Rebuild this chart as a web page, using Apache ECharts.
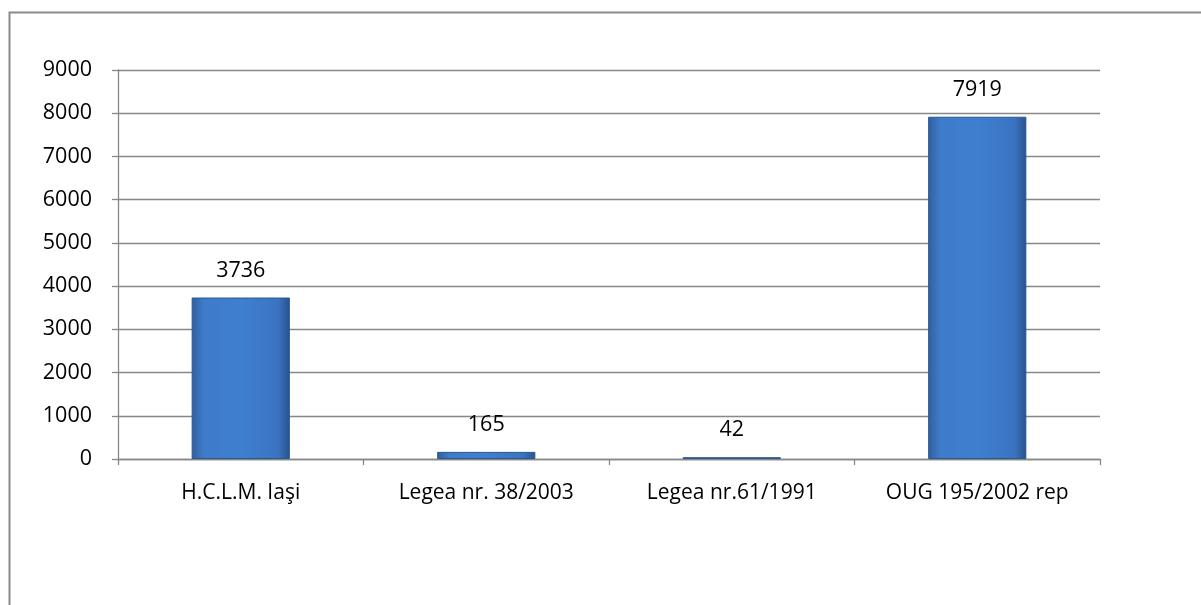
<!DOCTYPE html>
<html>
<head>
<meta charset="utf-8">
<script src="https://cdn.jsdelivr.net/npm/echarts@6/dist/echarts.min.js"></script>
<style>
html, body { margin: 0; padding: 0; background: #fff; }
#chart { width: 1201px; height: 605px; }
</style>
</head>
<body>
<div id="chart"></div>
<script>
var categories = ["H.C.L.M. Iaşi", "Legea nr. 38/2003", "Legea nr.61/1991", "OUG 195/2002 rep"];
var values = [3736, 165, 42, 7919];

var fontName = "'Open Sans', 'Noto Sans', sans-serif";

var myChart = echarts.init(document.getElementById("chart"));

var option = {
    animation: false,
    backgroundColor: "#fff",
    graphic: [
        {
            type: "rect",
            shape: { x: 9.5, y: 12.5, width: 1300, height: 700 },
            style: { fill: "none", stroke: "#8a8a8a", lineWidth: 2 }
        }
    ],
    grid: { left: 118, right: 101, top: 70, bottom: 146 },
    xAxis: {
        type: "category",
        data: categories,
        axisLine: { lineStyle: { color: "#878787", width: 1.3 } },
        axisTick: { show: true, length: 6, lineStyle: { color: "#878787", width: 1.3 } },
        axisLabel: { color: "#000", fontSize: 21, fontFamily: fontName, margin: 24 }
    },
    yAxis: {
        type: "value",
        min: 0,
        max: 9000,
        interval: 1000,
        axisLine: { show: true, lineStyle: { color: "#878787", width: 1.3 } },
        axisTick: { show: true, length: 6, lineStyle: { color: "#878787", width: 1.3 } },
        splitLine: { lineStyle: { color: "#878787", width: 1.3 } },
        axisLabel: {
            color: "#000",
            fontSize: 21.5,
            fontFamily: fontName,
            margin: 26,
            formatter: function (v) { return String(v); }
        }
    },
    series: [
        {
            type: "bar",
            data: values,
            barWidth: "40%",
            itemStyle: {
                color: new echarts.graphic.LinearGradient(0, 0, 1, 0, [
                    { offset: 0, color: "#2f5f9e" },
                    { offset: 0.12, color: "#3e7bc9" },
                    { offset: 0.5, color: "#3f7fd0" },
                    { offset: 0.88, color: "#3a74c0" },
                    { offset: 1, color: "#28528a" }
                ]),
                borderColor: "#2a5790",
                borderWidth: 1
            },
            label: {
                show: true,
                position: "top",
                distance: 16,
                color: "#000",
                fontSize: 21.5,
                fontFamily: fontName
            }
        }
    ]
};

myChart.setOption(option);
</script>
</body>
</html>
